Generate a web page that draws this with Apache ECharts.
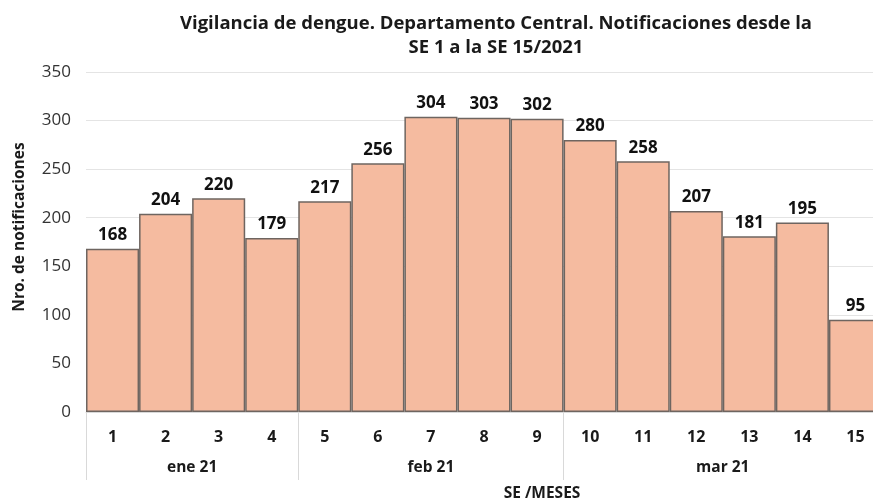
<!DOCTYPE html>
<html><head><meta charset="utf-8">
<script src="https://cdn.jsdelivr.net/npm/echarts@6/dist/echarts.min.js"></script>
<style>html,body{margin:0;padding:0;background:#fff}#c{width:873px;height:501px}</style>
</head><body><div id="c"></div>
<script>
const weeks = ['1','2','3','4','5','6','7','8','9','10','11','12','13','14','15'];
const values = [168,204,220,179,217,256,304,303,302,280,258,207,181,195,95];
const months = ['ene 21','feb 21','mar 21'];
const monthWeeks = [4,5,6];
const yTicks = [0,50,100,150,200,250,300,350];

// half-week slots for month axis
const halfSlots = [];
const monthLabelIdx = {};
const sepIdx = [0];
let acc = 0;
monthWeeks.forEach((n,i)=>{ monthLabelIdx[acc*2 + n] = months[i]; acc += n; sepIdx.push(acc*2); });
for (let i=0;i<=acc*2;i++) halfSlots.push(monthLabelIdx[i] || '');

const font = '"Open Sans", sans-serif';
const chart = echarts.init(document.getElementById('c'));
chart.setOption({
  animation:false,
  title:[{
    text:'Vigilancia de dengue. Departamento Central. Notificaciones desde la\nSE 1 a la SE 15/2021',
    left:491, top:7, textAlign:'center',
    textStyle:{fontFamily:font,fontWeight:'bold',fontSize:18.5,color:'#1a1a1a',lineHeight:24}
  },{
    text:'SE /MESES', left:537, top:481, textAlign:'center',
    textStyle:{fontFamily:font,fontWeight:'bold',fontSize:15.5,color:'#1a1a1a'}
  }],
  grid:{left:86, width:796, top:72, bottom:89, outerBoundsMode:'none', containLabel:false},
  xAxis:[{
    type:'category', data:weeks,
    axisTick:{show:false},
    axisLine:{lineStyle:{color:'#d9d9d9'}},
    axisLabel:{fontFamily:font,fontWeight:'bold',fontSize:16,color:'#1a1a1a',margin:17}
  },{
    type:'category', data:halfSlots, boundaryGap:false, position:'bottom',
    axisLine:{show:false},
    axisTick:{show:true, length:68, interval:(i)=>sepIdx.includes(i), lineStyle:{color:'#d9d9d9'}},
    axisLabel:{show:true, interval:(i)=>!!monthLabelIdx[i], fontFamily:font,fontWeight:'bold',fontSize:15.5,color:'#1a1a1a',margin:48},
    splitLine:{show:false}
  }],
  yAxis:{
    type:'value', min:0, max:350, interval:50,
    name:'Nro. de notificaciones', nameLocation:'middle', nameGap:58,
    nameTextStyle:{fontFamily:font,fontWeight:'bold',fontSize:15.5,color:'#1a1a1a', padding:[0,0,0,30]},
    axisLabel:{fontFamily:font,fontSize:17,color:'#333',margin:15},
    splitLine:{lineStyle:{color:'#e4e4e4'}},
    axisLine:{show:false}, axisTick:{show:false}
  },
  series:[{
    type:'bar', data:values, barCategoryGap:'0%', xAxisIndex:0,
    itemStyle:{color:'#F5BBA0', borderColor:'#6e6560', borderWidth:1.5},
    label:{show:true, position:'top', distance:5, fontFamily:font,fontWeight:'bold',fontSize:17,color:'#111'}
  }]
});
</script></body></html>
